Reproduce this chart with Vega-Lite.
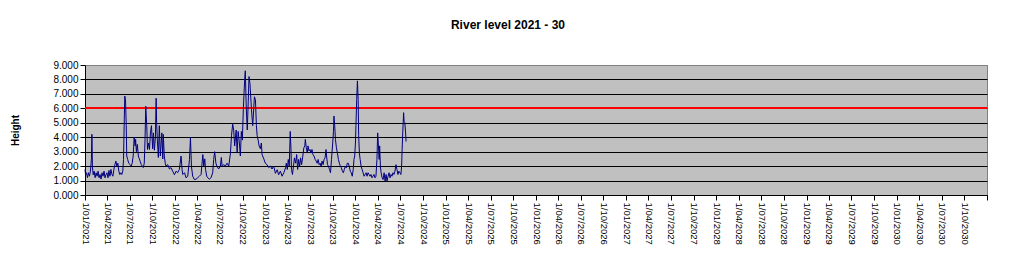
{
  "$schema": "https://vega.github.io/schema/vega-lite/v6.json",
  "width": 902,
  "height": 130,
  "autosize": {"type": "none"},
  "padding": {"left": 85, "top": 65, "right": 36, "bottom": 83},
  "background": "white",
  "title": {
    "text": "River level 2021 - 30",
    "font": "Liberation Sans",
    "fontSize": 12,
    "fontWeight": "bold",
    "color": "black",
    "anchor": "middle",
    "dx": -28,
    "offset": 28
  },
  "config": {
    "view": {"stroke": "#808080", "strokeWidth": 1, "fill": "#C0C0C0"},
    "axis": {
      "labelFont": "Liberation Sans",
      "titleFont": "Liberation Sans",
      "labelColor": "black",
      "titleColor": "black",
      "domainColor": "black",
      "tickColor": "black"
    }
  },
  "data": {
    "format": {"parse": {"date": "date:'%Y-%m-%d'"}},
    "values": [
      {"date":"2021-01-01","level":1.77},{"date":"2021-01-03","level":1.42},{"date":"2021-01-07","level":1.54},{"date":"2021-01-11","level":1.2},{"date":"2021-01-15","level":1.54},{"date":"2021-01-19","level":1.3},{"date":"2021-01-23","level":1.65},{"date":"2021-01-27","level":2.5},{"date":"2021-01-29","level":4.2},{"date":"2021-01-31","level":2.0},
      {"date":"2021-02-03","level":1.4},{"date":"2021-02-07","level":1.65},{"date":"2021-02-11","level":1.2},{"date":"2021-02-15","level":1.54},{"date":"2021-02-19","level":1.3},{"date":"2021-02-23","level":1.65},{"date":"2021-02-27","level":1.19},
      {"date":"2021-03-03","level":1.42},{"date":"2021-03-07","level":1.1},{"date":"2021-03-11","level":1.54},{"date":"2021-03-15","level":1.3},{"date":"2021-03-19","level":1.65},{"date":"2021-03-23","level":1.19},{"date":"2021-03-27","level":1.42},{"date":"2021-03-31","level":1.54},
      {"date":"2021-04-04","level":1.19},{"date":"2021-04-08","level":1.7},{"date":"2021-04-12","level":1.3},{"date":"2021-04-16","level":1.77},{"date":"2021-04-20","level":1.42},{"date":"2021-04-24","level":1.3},{"date":"2021-04-28","level":1.77},
      {"date":"2021-05-02","level":2.1},{"date":"2021-05-06","level":2.35},{"date":"2021-05-10","level":2.0},{"date":"2021-05-14","level":2.2},{"date":"2021-05-18","level":1.65},{"date":"2021-05-22","level":1.42},{"date":"2021-05-26","level":1.54},{"date":"2021-05-30","level":1.42},
      {"date":"2021-06-03","level":1.65},{"date":"2021-06-06","level":2.46},{"date":"2021-06-09","level":5.2},{"date":"2021-06-11","level":6.85},{"date":"2021-06-14","level":6.6},{"date":"2021-06-17","level":4.8},{"date":"2021-06-19","level":2.7},{"date":"2021-06-23","level":2.45},{"date":"2021-06-27","level":2.2},
      {"date":"2021-07-03","level":2.1},{"date":"2021-07-07","level":2.0},{"date":"2021-07-11","level":2.2},{"date":"2021-07-15","level":2.7},{"date":"2021-07-19","level":4.0},{"date":"2021-07-23","level":3.4},{"date":"2021-07-25","level":3.85},{"date":"2021-07-28","level":3.0},
      {"date":"2021-08-01","level":3.5},{"date":"2021-08-05","level":2.7},{"date":"2021-08-09","level":2.5},{"date":"2021-08-13","level":2.3},{"date":"2021-08-17","level":2.1},{"date":"2021-08-21","level":2.0},{"date":"2021-08-25","level":1.9},{"date":"2021-08-29","level":2.2},
      {"date":"2021-09-01","level":3.85},{"date":"2021-09-04","level":6.15},{"date":"2021-09-08","level":4.8},{"date":"2021-09-11","level":3.15},{"date":"2021-09-15","level":3.6},{"date":"2021-09-19","level":3.15},{"date":"2021-09-23","level":4.3},{"date":"2021-09-27","level":4.8},
      {"date":"2021-10-02","level":3.2},{"date":"2021-10-05","level":4.3},{"date":"2021-10-09","level":3.1},{"date":"2021-10-13","level":4.0},{"date":"2021-10-16","level":6.7},{"date":"2021-10-18","level":5.0},{"date":"2021-10-21","level":3.8},{"date":"2021-10-25","level":2.6},{"date":"2021-10-29","level":4.8},
      {"date":"2021-11-02","level":2.7},{"date":"2021-11-08","level":4.3},{"date":"2021-11-12","level":2.5},{"date":"2021-11-14","level":4.2},{"date":"2021-11-18","level":2.7},{"date":"2021-11-22","level":2.2},{"date":"2021-11-25","level":2.0},
      {"date":"2021-12-02","level":2.1},{"date":"2021-12-09","level":1.8},{"date":"2021-12-15","level":1.9},{"date":"2021-12-22","level":1.65},{"date":"2021-12-29","level":1.4},
      {"date":"2022-01-05","level":1.65},{"date":"2022-01-11","level":1.54},{"date":"2022-01-18","level":1.77},{"date":"2022-01-25","level":2.7},{"date":"2022-01-29","level":1.77},
      {"date":"2022-02-01","level":1.42},{"date":"2022-02-08","level":1.54},{"date":"2022-02-14","level":1.19},{"date":"2022-02-21","level":1.3},{"date":"2022-02-28","level":2.46},
      {"date":"2022-03-04","level":4.0},{"date":"2022-03-08","level":1.98},{"date":"2022-03-13","level":1.3},{"date":"2022-03-20","level":1.07},{"date":"2022-03-27","level":1.1},
      {"date":"2022-04-02","level":1.19},{"date":"2022-04-09","level":1.3},{"date":"2022-04-16","level":1.42},{"date":"2022-04-23","level":2.8},{"date":"2022-04-27","level":1.98},
      {"date":"2022-05-01","level":2.5},{"date":"2022-05-04","level":1.77},{"date":"2022-05-09","level":1.3},{"date":"2022-05-13","level":1.19},{"date":"2022-05-20","level":1.1},{"date":"2022-05-26","level":1.19},
      {"date":"2022-06-02","level":1.54},{"date":"2022-06-06","level":2.46},{"date":"2022-06-10","level":3.0},{"date":"2022-06-15","level":2.2},{"date":"2022-06-19","level":2.0},{"date":"2022-06-26","level":1.8},
      {"date":"2022-07-03","level":2.0},{"date":"2022-07-07","level":2.6},{"date":"2022-07-10","level":2.0},{"date":"2022-07-17","level":2.1},{"date":"2022-07-23","level":2.0},{"date":"2022-07-30","level":2.2},
      {"date":"2022-08-06","level":2.0},{"date":"2022-08-13","level":2.9},{"date":"2022-08-17","level":4.1},{"date":"2022-08-22","level":4.9},{"date":"2022-08-26","level":4.5},{"date":"2022-08-30","level":3.4},
      {"date":"2022-09-05","level":4.5},{"date":"2022-09-09","level":2.9},{"date":"2022-09-13","level":4.4},{"date":"2022-09-18","level":3.6},{"date":"2022-09-22","level":2.7},{"date":"2022-09-26","level":4.4},{"date":"2022-09-30","level":3.8},
      {"date":"2022-10-04","level":5.9},{"date":"2022-10-07","level":7.1},{"date":"2022-10-10","level":8.1},{"date":"2022-10-12","level":8.6},{"date":"2022-10-16","level":6.0},{"date":"2022-10-20","level":4.5},{"date":"2022-10-24","level":6.5},{"date":"2022-10-27","level":8.2},{"date":"2022-10-31","level":7.7},
      {"date":"2022-11-06","level":5.9},{"date":"2022-11-11","level":4.8},{"date":"2022-11-18","level":6.8},{"date":"2022-11-22","level":6.6},{"date":"2022-11-26","level":4.8},{"date":"2022-11-29","level":4.1},
      {"date":"2022-12-03","level":3.8},{"date":"2022-12-07","level":3.4},{"date":"2022-12-12","level":3.2},{"date":"2022-12-16","level":3.6},{"date":"2022-12-19","level":2.8},{"date":"2022-12-26","level":2.5},
      {"date":"2023-01-01","level":2.2},{"date":"2023-01-08","level":2.1},{"date":"2023-01-15","level":1.9},{"date":"2023-01-22","level":2.0},{"date":"2023-01-28","level":1.8},
      {"date":"2023-02-04","level":2.0},{"date":"2023-02-11","level":1.5},{"date":"2023-02-18","level":1.75},{"date":"2023-02-24","level":1.4},
      {"date":"2023-03-03","level":1.65},{"date":"2023-03-10","level":1.3},{"date":"2023-03-17","level":1.54},{"date":"2023-03-24","level":1.88},{"date":"2023-03-27","level":2.2},{"date":"2023-03-31","level":1.77},
      {"date":"2023-04-04","level":2.46},{"date":"2023-04-08","level":1.98},{"date":"2023-04-12","level":4.4},{"date":"2023-04-15","level":3.15},{"date":"2023-04-17","level":1.77},{"date":"2023-04-21","level":1.42},{"date":"2023-04-25","level":1.98},{"date":"2023-04-29","level":2.57},
      {"date":"2023-05-04","level":2.2},{"date":"2023-05-08","level":2.8},{"date":"2023-05-12","level":1.77},{"date":"2023-05-16","level":2.46},{"date":"2023-05-20","level":1.98},{"date":"2023-05-24","level":2.57},{"date":"2023-05-28","level":2.1},
      {"date":"2023-06-02","level":2.7},{"date":"2023-06-06","level":3.27},{"date":"2023-06-10","level":3.4},{"date":"2023-06-12","level":3.85},{"date":"2023-06-16","level":3.27},{"date":"2023-06-20","level":2.9},{"date":"2023-06-23","level":3.4},{"date":"2023-06-27","level":3.05},
      {"date":"2023-07-01","level":3.15},{"date":"2023-07-05","level":2.9},{"date":"2023-07-09","level":3.15},{"date":"2023-07-13","level":2.8},{"date":"2023-07-17","level":2.7},{"date":"2023-07-22","level":2.46},{"date":"2023-07-26","level":2.35},{"date":"2023-07-30","level":2.2},
      {"date":"2023-08-03","level":2.46},{"date":"2023-08-07","level":2.1},{"date":"2023-08-11","level":2.2},{"date":"2023-08-15","level":1.98},{"date":"2023-08-19","level":2.35},{"date":"2023-08-23","level":2.1},{"date":"2023-08-27","level":2.46},{"date":"2023-08-31","level":2.57},
      {"date":"2023-09-04","level":3.15},{"date":"2023-09-06","level":2.7},{"date":"2023-09-10","level":2.1},{"date":"2023-09-14","level":1.98},{"date":"2023-09-18","level":1.77},{"date":"2023-09-22","level":1.54},{"date":"2023-09-26","level":2.46},
      {"date":"2023-10-01","level":3.6},{"date":"2023-10-04","level":4.4},{"date":"2023-10-06","level":5.46},{"date":"2023-10-09","level":4.8},{"date":"2023-10-12","level":3.85},{"date":"2023-10-16","level":3.27},{"date":"2023-10-20","level":2.9},{"date":"2023-10-24","level":2.46},{"date":"2023-10-28","level":2.2},
      {"date":"2023-11-01","level":1.98},{"date":"2023-11-05","level":1.88},{"date":"2023-11-09","level":1.65},{"date":"2023-11-13","level":1.54},{"date":"2023-11-17","level":1.77},{"date":"2023-11-21","level":1.98},{"date":"2023-11-25","level":1.88},{"date":"2023-11-29","level":2.2},
      {"date":"2023-12-03","level":2.2},{"date":"2023-12-07","level":1.98},{"date":"2023-12-11","level":1.65},{"date":"2023-12-15","level":1.54},{"date":"2023-12-19","level":1.3},{"date":"2023-12-23","level":1.77},{"date":"2023-12-26","level":2.46},{"date":"2023-12-29","level":2.7},
      {"date":"2024-01-01","level":3.6},{"date":"2024-01-03","level":4.8},{"date":"2024-01-06","level":6.6},{"date":"2024-01-09","level":7.9},{"date":"2024-01-12","level":6.6},{"date":"2024-01-14","level":4.1},{"date":"2024-01-17","level":2.9},{"date":"2024-01-20","level":2.46},{"date":"2024-01-24","level":1.98},{"date":"2024-01-28","level":1.77},
      {"date":"2024-02-01","level":1.54},{"date":"2024-02-05","level":1.3},{"date":"2024-02-09","level":1.42},{"date":"2024-02-13","level":1.54},{"date":"2024-02-17","level":1.3},{"date":"2024-02-21","level":1.54},{"date":"2024-02-25","level":1.42},{"date":"2024-02-29","level":1.3},
      {"date":"2024-03-04","level":1.42},{"date":"2024-03-08","level":1.19},{"date":"2024-03-12","level":1.3},{"date":"2024-03-16","level":1.42},{"date":"2024-03-20","level":1.19},{"date":"2024-03-24","level":1.3},{"date":"2024-03-28","level":2.46},{"date":"2024-03-31","level":4.3},
      {"date":"2024-04-03","level":3.4},{"date":"2024-04-06","level":2.46},{"date":"2024-04-08","level":3.4},{"date":"2024-04-11","level":1.98},{"date":"2024-04-14","level":1.54},{"date":"2024-04-18","level":1.19},{"date":"2024-04-22","level":1.07},{"date":"2024-04-26","level":1.54},{"date":"2024-04-30","level":0.96},
      {"date":"2024-05-04","level":1.42},{"date":"2024-05-08","level":0.96},{"date":"2024-05-12","level":1.3},{"date":"2024-05-16","level":1.54},{"date":"2024-05-20","level":1.19},{"date":"2024-05-24","level":1.42},{"date":"2024-05-28","level":1.3},
      {"date":"2024-06-01","level":1.54},{"date":"2024-06-05","level":1.42},{"date":"2024-06-09","level":1.65},{"date":"2024-06-13","level":2.1},{"date":"2024-06-17","level":1.77},{"date":"2024-06-21","level":1.42},{"date":"2024-06-25","level":1.65},{"date":"2024-06-29","level":1.54},
      {"date":"2024-07-03","level":1.42},{"date":"2024-07-06","level":2.0},{"date":"2024-07-08","level":3.15},{"date":"2024-07-11","level":4.5},{"date":"2024-07-14","level":5.7},{"date":"2024-07-16","level":5.1},{"date":"2024-07-19","level":5.0},{"date":"2024-07-22","level":4.3},{"date":"2024-07-24","level":3.7}
    ]
  },
  "encoding": {
    "x": {
      "field": "date",
      "type": "temporal",
      "scale": {"domain": [{"year": 2021, "month": 1, "date": 1}, {"year": 2031, "month": 1, "date": 1}], "nice": false},
      "axis": {
        "title": null,
        "grid": false,
        "tickCount": {"interval": "month", "step": 3},
        "labelExpr": "year(datum.value) > 2030 ? '' : timeFormat(datum.value, '%-d/%m/%Y')",
        "labelAngle": 90,
        "labelAlign": "left",
        "labelBaseline": "middle",
        "labelFontSize": 9.5,
        "labelPadding": 2,
        "tickSize": 5,
        "labelOverlap": false,
        "labelBound": false,
        "labelFlush": false
      }
    },
    "y": {
      "field": "level",
      "type": "quantitative",
      "scale": {"domain": [0, 9], "nice": false, "zero": true},
      "axis": {
        "title": "Height",
        "titleFontSize": 10,
        "titleFontWeight": "bold",
        "titleAngle": -90,
        "titleX": -70,
        "titleY": 65,
        "titleAlign": "center",
        "titleBaseline": "middle",
        "values": [0, 1, 2, 3, 4, 5, 6, 7, 8, 9],
        "format": ".3f",
        "labelFontSize": 10,
        "labelPadding": 2,
        "tickSize": 5,
        "grid": true,
        "gridColor": {"condition": {"test": "datum.value === 9", "value": "#808080"}, "value": "black"},
        "gridWidth": 1,
        "gridOpacity": 1
      }
    }
  },
  "layer": [
    {
      "mark": {"type": "rule", "color": "#FF0000", "strokeWidth": 1},
      "encoding": {"y": {"datum": 6}, "x": null}
    },
    {
      "mark": {"type": "line", "color": "#000080", "strokeWidth": 1, "interpolate": "linear"}
    }
  ]
}
